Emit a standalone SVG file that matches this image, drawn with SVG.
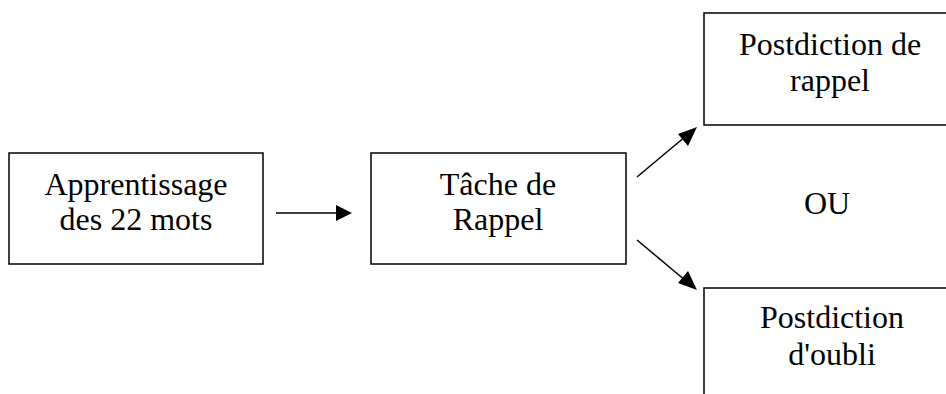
<svg xmlns="http://www.w3.org/2000/svg" width="946" height="394" viewBox="0 0 946 394">
<rect width="946" height="394" fill="#fff"/>
<g id="n1"><rect x="9" y="153" width="254" height="111" fill="#fff" stroke="#000" stroke-width="1.5"/>
<text x="136" y="195" font-family="'Liberation Serif', serif" font-size="32" text-anchor="middle">Apprentissage</text>
<text x="136" y="230" font-family="'Liberation Serif', serif" font-size="32" text-anchor="middle">des 22 mots</text></g>
<g id="n2"><rect x="371" y="153" width="255" height="111" fill="#fff" stroke="#000" stroke-width="1.5"/>
<text x="498" y="195" font-family="'Liberation Serif', serif" font-size="32" text-anchor="middle">Tâche de</text>
<text x="498" y="230" font-family="'Liberation Serif', serif" font-size="32" text-anchor="middle">Rappel</text></g>
<g id="n3"><rect x="704" y="13" width="260" height="112" fill="#fff" stroke="#000" stroke-width="1.5"/>
<text x="830" y="55" font-family="'Liberation Serif', serif" font-size="32" text-anchor="middle">Postdiction de</text>
<text x="830" y="91" font-family="'Liberation Serif', serif" font-size="32" text-anchor="middle">rappel</text></g>
<g id="ou"><text x="827" y="214" font-family="'Liberation Serif', serif" font-size="32" text-anchor="middle">OU</text></g>
<g id="n4"><rect x="704" y="288" width="260" height="130" fill="#fff" stroke="#000" stroke-width="1.5"/>
<text x="832" y="328" font-family="'Liberation Serif', serif" font-size="32" text-anchor="middle">Postdiction</text>
<text x="832" y="365" font-family="'Liberation Serif', serif" font-size="32" text-anchor="middle">d'oubli</text></g>
<g id="connectors" stroke="#000" stroke-width="1.5">
<line x1="276" y1="213" x2="338" y2="213"/>
<polygon points="352,213 336,205 336,221" fill="#000" stroke="none"/>
<line x1="637" y1="177" x2="686" y2="136"/>
<polygon points="697,127 678,134 688,146" fill="#000" stroke="none"/>
<line x1="637" y1="240" x2="686" y2="281"/>
<polygon points="697,290 688,271 678,283" fill="#000" stroke="none"/>
</g>
</svg>
